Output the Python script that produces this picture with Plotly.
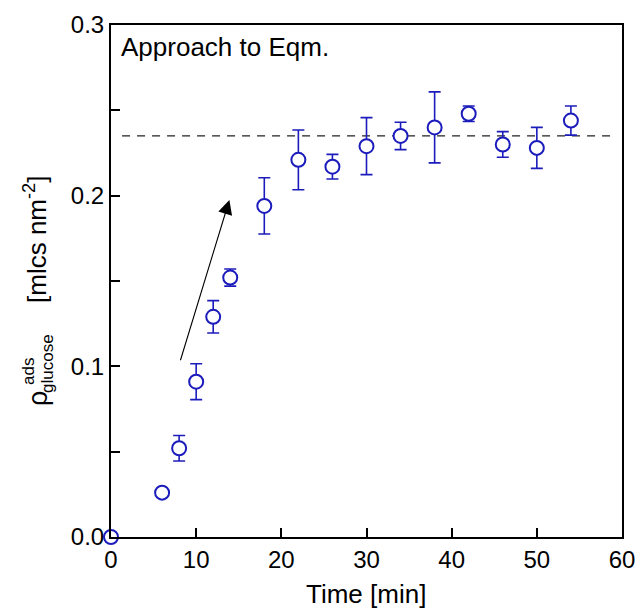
import plotly.graph_objects as go

# ---- data ----
time_min = [0, 6, 8, 10, 12, 14, 18, 22, 26, 30, 34, 38, 42, 46, 50, 54]
rho_ads = [0.0, 0.026, 0.052, 0.091, 0.129, 0.152, 0.194, 0.221, 0.217, 0.229,
           0.235, 0.240, 0.248, 0.230, 0.228, 0.244]
rho_err = [0.0, 0.0, 0.0075, 0.0105, 0.0095, 0.005, 0.0165, 0.0175, 0.0072,
           0.0167, 0.008, 0.0208, 0.0045, 0.0075, 0.012, 0.0085]
eqm_value = 0.235
eqm_x = [1.3, 59.0]
arrow_tail = (8.1, 0.1027)
arrow_tip = (13.9, 0.1975)

x_ticks = [0, 10, 20, 30, 40, 50, 60]
y_ticks = [0.0, 0.05, 0.1, 0.15, 0.2, 0.25, 0.3]
y_ticktext = ["0.0", " ", "0.1", " ", "0.2", " ", "0.3"]

BLUE = "#1c1cbc"
FONT = "Liberation Sans, Arial, sans-serif"

W, H = 639, 611
L, R, T, B = 111, 17, 25, 74
PW, PH = W - L - R, H - T - B


def px(xp):
    return (xp - L) / PW


def py(yp):
    return (H - B - yp) / PH


fig = go.Figure()

fig.add_trace(go.Scatter(
    x=eqm_x, y=[eqm_value, eqm_value], mode="lines",
    line=dict(color="#222222", width=1.3, dash="8px,7px"),
    showlegend=False, hoverinfo="skip"))

fig.add_trace(go.Scatter(
    x=time_min, y=rho_ads, mode="markers",
    marker=dict(symbol="circle", size=14, color="white",
                line=dict(color=BLUE, width=2)),
    error_y=dict(type="data", array=rho_err, visible=True,
                 color=BLUE, thickness=1.6, width=6),
    cliponaxis=False, showlegend=False))

fig.add_annotation(
    x=arrow_tip[0], y=arrow_tip[1], ax=arrow_tail[0], ay=arrow_tail[1],
    xref="x", yref="y", axref="x", ayref="y", text="",
    showarrow=True, arrowhead=2, arrowsize=2.6, arrowwidth=1.1,
    arrowcolor="black")

fig.add_annotation(
    x=px(119), y=py(47), xref="paper", yref="paper", text="Approach to Eqm.",
    showarrow=False, xanchor="left", yanchor="middle",
    font=dict(family=FONT, size=26, color="black"))

# x-axis title
fig.add_annotation(x=px(366), y=py(594), xref="paper", yref="paper", text="Time [min]",
                   showarrow=False, xanchor="center", yanchor="middle",
                   font=dict(family=FONT, size=26, color="black"))

# y-axis label pieces (rotated)
fig.add_annotation(x=px(38), y=py(399), xref="paper", yref="paper", text="ρ",
                   textangle=-90, showarrow=False, xanchor="center", yanchor="middle",
                   font=dict(family=FONT, size=27, color="black"))
fig.add_annotation(x=px(28), y=py(372), xref="paper", yref="paper", text="ads",
                   textangle=-90, showarrow=False, xanchor="center", yanchor="middle",
                   font=dict(family=FONT, size=17, color="black"))
fig.add_annotation(x=px(47), y=py(364), xref="paper", yref="paper", text="glucose",
                   textangle=-90, showarrow=False, xanchor="center", yanchor="middle",
                   font=dict(family=FONT, size=17, color="black"))
fig.add_annotation(x=px(35), y=py(240), xref="paper", yref="paper",
                   text="[mlcs nm<sup>-2</sup>]",
                   textangle=-90, showarrow=False, xanchor="center", yanchor="middle",
                   font=dict(family=FONT, size=26, color="black"))

axis_common = dict(showgrid=False, zeroline=False, showline=True, linecolor="black",
                   linewidth=2, mirror=True, ticks="inside", ticklen=9,
                   tickwidth=2, tickcolor="black", automargin=False,
                   tickfont=dict(family=FONT, size=24, color="black"))

fig.update_xaxes(range=[0, 60], tickvals=x_ticks, ticktext=[str(v) for v in x_ticks],
                 **axis_common)
fig.update_yaxes(range=[0, 0.3], tickvals=y_ticks, ticktext=y_ticktext, **axis_common)

fig.update_layout(width=W, height=H, margin=dict(l=L, r=R, t=T, b=B),
                  paper_bgcolor="white", plot_bgcolor="white")

fig.write_html("out.html")
